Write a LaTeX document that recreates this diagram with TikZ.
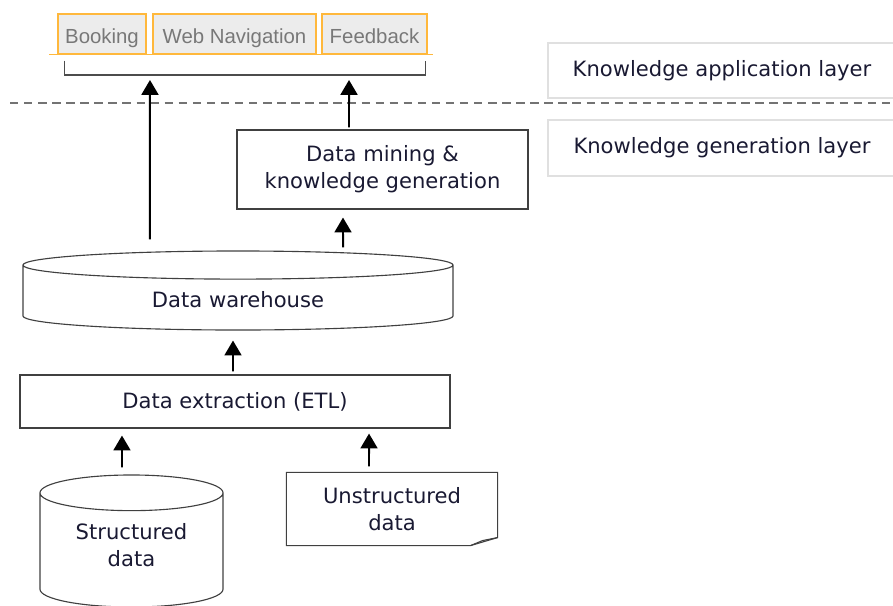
\documentclass[tikz,border=0pt]{standalone}
\usepackage{fontspec}
\setmainfont{DejaVu Sans}
\newfontfamily\tabfont{Liberation Sans}
\usetikzlibrary{shapes.geometric,arrows.meta}

\definecolor{tabedge}{RGB}{255,184,60}
\definecolor{tabfill}{RGB}{236,236,236}
\definecolor{tabtext}{RGB}{120,120,120}
\definecolor{inktext}{RGB}{25,25,50}

\tikzset{
  box/.style={shape=rectangle,draw=black!75,line width=0.8pt,align=center,text=inktext,font=\fontsize{15}{19}\selectfont},
  tab/.style={shape=rectangle,draw=tabedge,fill=tabfill,line width=0.9pt,text=tabtext,minimum height=1cm,text height=12.8pt,text depth=0pt,font=\tabfont\fontsize{14.5}{17}\selectfont},
  layer/.style={shape=rectangle,draw=black!12,line width=0.8pt,text=inktext,minimum width=8.7cm,font=\fontsize{15}{18}\selectfont},
  db/.style={box,shape=cylinder,shape border rotate=90,anchor=shape center},
  up/.style={-{Triangle[width=12pt,length=10.5pt]},line width=1.4pt,draw=black},
  bracket/.style={draw=black!70,line width=0.9pt},
  layerline/.style={draw=black!55,line width=1.2pt,dash pattern=on 6pt off 4pt}
}

\begin{document}
\begin{tikzpicture}[x=0.025cm,y=-0.025cm]
\useasboundingbox (0,0) rectangle (893,605);

\node[tab,minimum width=2.2cm] (booking) at (102,34) {Booking};
\node[tab,minimum width=4.075cm] (webnav) at (234.5,34) {Web Navigation};
\node[tab,minimum width=2.625cm] (feedback) at (374.5,34) {Feedback};
\draw[tabedge,line width=0.9pt] ([xshift=-0.2cm]booking.south west) -- ([xshift=0.125cm]feedback.south east);

\coordinate (brk) at (245,75);
\draw[bracket] ([xshift=0.175cm,yshift=-0.15cm]booking.south west) |- (brk) -| ([xshift=-0.05cm,yshift=-0.15cm]feedback.south east);

\draw[layerline] (10,103) -- (893,103);

\node[layer,minimum height=1.375cm] (applayer) at (722,70.5) {Knowledge application layer};
\node[layer,minimum height=1.4cm] (genlayer) at (722,148) {Knowledge generation layer};

\node[box,minimum width=7.275cm,minimum height=1.975cm] (mining) at (382.5,169.5) {Data mining \&\\knowledge generation};
\node[db,minimum width=10.75cm,minimum height=1.975cm,aspect=0.155] (dw) at (238,290.5) {Data warehouse};
\node[box,minimum width=10.75cm,minimum height=1.325cm] (etl) at (235,401.5) {Data extraction (ETL)};
\node[db,minimum width=4.575cm,minimum height=3.3cm,aspect=0.295,text depth=11pt] (sdata) at (131.5,541) {Structured\\data};
\node[box,draw=none,minimum width=5.25cm,minimum height=1.8cm] (unstr) at (392,509) {Unstructured\\data};

% folded sheet
\draw[black!75,line width=0.8pt] (unstr.south west) -- (unstr.north west) -- (unstr.north east) -- ([yshift=0.2cm]unstr.south east) -- ([xshift=-0.675cm]unstr.south east) -- cycle;
\draw[black!75,line width=0.8pt] ([yshift=0.2cm]unstr.south east) -- ([xshift=-0.375cm,yshift=0.125cm]unstr.south east) -- ([xshift=-0.675cm]unstr.south east);

\draw[up] ([xshift=-2.2cm,yshift=0.275cm]dw.north) -- ([xshift=-2.375cm,yshift=-0.125cm]brk);
\draw[up] ([xshift=-0.8375cm,yshift=0.05cm]mining.north) -- ([xshift=2.6cm,yshift=-0.125cm]brk);
\draw[up] ([xshift=2.625cm,yshift=0.075cm]dw.north) -- ([xshift=-0.9875cm,yshift=-0.2cm]mining.south);
\draw[up] ([xshift=-0.05cm,yshift=0.075cm]etl.north) -- ([xshift=-0.125cm,yshift=-0.25cm]dw.south);
\draw[up] ([xshift=-0.2375cm,yshift=0.175cm]sdata.north) -- ([xshift=-2.825cm,yshift=-0.175cm]etl.south);
\draw[up] ([xshift=-0.575cm,yshift=0.15cm]unstr.north) -- ([xshift=3.35cm,yshift=-0.125cm]etl.south);
\end{tikzpicture}
\end{document}
